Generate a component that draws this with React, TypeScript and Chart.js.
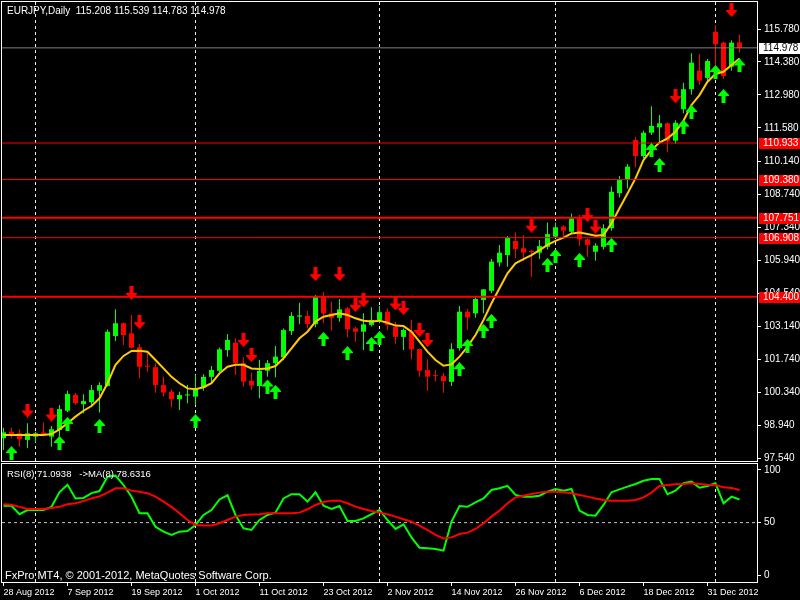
import React, { useEffect, useRef } from 'react';
import { Chart, registerables } from 'chart.js';

Chart.register(...registerables);

// ---- Daily EURJPY candles (bar index 0 = 28 Aug 2012) ----
const OPEN = [98.38,98.66,98.59,98.31,98.45,98.62,98.45,98.73,99.55,100.22, 99.83,99.91,100.40,100.60,102.73,103.27,102.84,102.25,101.45,101.40, 100.64,100.36,100.04,100.20,100.15,100.53,100.99,101.25,102.13,102.44, 101.57,100.82,100.60,101.25,101.57,101.82,102.94,103.55,103.58,103.23, 104.40,103.69,103.50,103.90,103.05,102.91,103.20,103.41,103.76,103.12, 102.69,102.91,102.17,101.28,101.06,101.02,100.78,102.21,103.76,103.69, 104.26,104.65,105.85,106.17,106.77,106.46,106.34,106.27,106.52,106.95, 107.38,107.16,107.73,106.84,106.31,106.52,107.31,108.80,109.36,111.06, 110.38,111.37,111.60,111.77,111.03,112.37,113.22,114.01,113.70,115.66, 115.20,114.18,115.208];
const HIGH = [98.83,98.83,98.76,99.02,98.66,99.06,98.90,99.79,100.40,100.30, 100.25,100.64,100.76,103.00,103.86,103.30,103.62,102.39,101.99,101.57, 101.00,100.46,100.36,100.64,101.07,101.10,101.45,102.24,102.81,102.63, 101.82,101.17,101.71,101.71,102.30,103.05,103.74,104.14,103.79,104.47, 104.61,104.18,104.30,103.97,103.12,103.69,103.95,104.00,103.90,103.33, 103.05,103.41,102.20,101.74,101.28,101.17,102.42,104.00,103.88,104.40, 104.72,106.00,106.60,106.98,107.14,107.02,106.38,106.81,107.55,107.55, 107.45,107.94,107.87,106.88,106.67,107.48,109.08,109.53,110.04,111.20, 111.46,112.50,112.12,111.80,111.90,113.50,114.75,114.72,114.50,115.95, 115.25,115.30,115.539];
const LOW = [97.88,98.38,98.02,97.95,98.19,98.47,98.02,98.48,99.50,99.80, 99.44,99.74,99.47,100.58,102.51,102.34,102.20,100.93,101.21,100.32, 100.15,99.70,99.58,99.87,99.79,100.40,100.72,101.20,101.85,101.07, 100.57,100.43,100.08,101.00,100.97,101.70,102.77,103.23,103.05,103.10, 103.27,102.96,103.33,102.67,102.48,102.13,103.13,103.27,102.98,102.40, 102.13,101.74,100.99,100.40,100.79,100.32,100.60,102.10,102.98,103.50, 103.69,104.55,105.67,105.67,106.03,105.92,105.25,106.00,106.40,106.90, 106.95,107.10,106.55,106.10,105.93,106.40,107.20,108.62,109.00,109.90, 110.28,111.27,110.92,110.56,110.90,112.20,113.00,113.40,113.55,114.04, 113.65,114.00,114.783];
const CLOSE = [98.63,98.52,98.34,98.59,98.59,98.56,98.76,99.62,100.26,99.87, 99.96,100.43,100.64,102.91,103.27,102.77,102.23,101.42,101.42,100.64, 100.32,100.04,100.22,100.24,100.50,100.99,101.28,102.16,102.56,101.57, 100.79,100.62,101.25,101.57,101.85,102.98,103.58,103.60,103.24,104.40, 103.69,103.50,103.86,103.01,102.91,103.22,103.41,103.74,103.20,102.69, 102.98,102.16,101.25,101.00,101.02,100.81,102.17,103.76,103.52,104.30, 104.71,105.89,106.27,106.91,106.43,106.27,106.30,106.55,107.06,107.35, 107.21,107.73,106.84,106.60,106.57,107.31,108.86,109.39,109.93,110.38, 111.37,111.66,111.77,111.02,111.79,113.22,114.35,113.58,114.42,115.13, 113.78,115.20,114.978];

// Moving average on price (yellow)
const PRICE_MA = [98.52,98.52,98.52,98.52,98.52,98.52,98.56,98.76,99.02,99.30, 99.55,99.75,100.08,100.72,101.50,101.88,102.09,102.10,102.06,101.71, 101.35,100.99,100.72,100.50,100.46,100.55,100.72,101.14,101.42,101.50, 101.50,101.35,101.32,101.35,101.45,101.78,102.20,102.63,102.91,103.34, 103.55,103.62,103.69,103.62,103.48,103.38,103.34,103.38,103.29,103.17, 103.15,102.91,102.49,102.06,101.71,101.46,101.52,101.85,102.27,102.77, 103.41,104.12,104.76,105.39,105.82,106.00,106.17,106.38,106.60,106.77, 106.91,107.09,107.13,107.06,106.99,107.02,107.52,108.16,108.79,109.43, 110.21,110.64,110.95,111.13,111.41,111.88,112.55,112.97,113.54,113.87, 113.96,114.25,114.53];

// Signal arrows
const UP_IDX = [1,7,8,12,24,33,34,40,43,46,47,57,58,60,61,68,69,72,76,81,82,85,86,89,90,92];
const UP_PRICE = [97.75,98.18,98.99,98.90,99.11,100.58,100.35,102.60,102.00,102.39,102.64,101.32,102.30,102.94,103.37,105.75,106.13,105.96,106.60,110.64,110.00,111.63,112.25,113.95,112.93,114.23];
const DOWN_IDX = [3,6,16,17,30,31,39,42,44,45,49,50,52,53,66,73,74,84,91];
const DOWN_PRICE = [99.56,99.39,104.56,103.32,102.56,101.92,105.36,105.36,104.05,104.24,104.11,103.92,102.98,102.56,107.42,107.87,107.38,112.93,116.59];

// Horizontal levels
const LEVELS = [110.933, 109.380, 107.751, 106.908, 104.400];
const LEVEL_WIDTHS = [1, 1, 2, 1, 2];
const BID = 114.978;

// Price axis ticks
const PRICE_TICKS = [115.78, 114.38, 112.98, 111.58, 110.14, 108.74, 107.34, 105.94, 104.54, 103.14, 101.74, 100.34, 98.94, 97.54];

// RSI(8) and its MA(8)
const RSI = [66,66,58,62,62,62,65,79,86,73, 73.5,78,80,93.6,94.6,85.7,74.6,59,59,46, 41.4,38.3,41.4,42,47.8,57.3,62,72,76,57.3, 44.6,43,52.5,57.3,59.5,73,77,77,70,78.8, 66,63,65.8,51.6,51.6,54,58,62,52.5,44, 48.4,36,26.2,25.6,25,23.4,51,65.8,65,69.3, 73,81,82.6,85,76.3,74.7,74.7,75.6,79.4,82, 80.4,82,61.4,57.3,56.6,66.8,78.8,81.6,84.2,86.7, 89.8,91.5,91.5,77,80.4,87.4,88.9,83.2,84.8,87.4, 68.4,74.7,72];
const RSI_MA = [67.4,67,65,63,63,63,64,65,67.4,68.5, 70.6,73,75,78.5,82.6,82.6,80.4,79.4,78,74.7, 70,65,59,52.5,47.8,47.2,47.2,49.4,52.5,55.7, 57.3,57.8,58,59,59,59,59,59.5,62.7,66.8, 69.6,70.9,70.9,68.4,65.2,63,61,59.5,58,55.7, 53.2,51,47.2,43,38.3,35,36,39.2,40.5,44, 49.4,55.7,61.4,68.4,74,75.6,77.2,78.5,79.4,79.4, 78.8,77.9,76.3,74.7,73,71.5,70.9,70.9,70.9,71.5, 74,78.5,84.8,85.7,86.4,86.7,87.4,86.7,86,85.7, 83.5,83,81];
const RSI_TICKS = [0, 50, 100];

// Time axis
const DATE_IDX = [0, 8, 16, 24, 32, 40, 48, 56, 64, 72, 80, 88];
const DATE_LABELS = ['28 Aug 2012', '7 Sep 2012', '19 Sep 2012', '1 Oct 2012', '11 Oct 2012', '23 Oct 2012', '2 Nov 2012', '14 Nov 2012', '26 Nov 2012', '6 Dec 2012', '18 Dec 2012', '31 Dec 2012'];
const MONTH_IDX = [4, 24, 47, 69, 89];

const HEADER = 'EURJPY,Daily  115.208 115.539 114.783 114.978';
const RSI_TITLE = 'RSI(8) 71.0938   ->MA(8) 78.6316';
const COPYRIGHT = 'FxPro MT4, \u00A9 2001-2012, MetaQuotes Software Corp.';

const X_MIN = -0.1875;
const X_MAX = 94.1875;
const P_MIN = 97.413;
const P_MAX = 116.928;
const R_MIN = -6.4;
const R_MAX = 105.7;

const GREEN = '#00ff00';
const RED = '#ff0000';
const FONT = '"Liberation Sans", Arial, sans-serif';

function makeArrow(up: boolean, color: string): HTMLCanvasElement {
  const c = document.createElement('canvas');
  c.width = 11;
  c.height = 14;
  const g = c.getContext('2d')!;
  g.fillStyle = color;
  g.beginPath();
  if (up) {
    g.moveTo(5.5, 0);
    g.lineTo(11, 6);
    g.lineTo(11, 7);
    g.lineTo(7.5, 7);
    g.lineTo(7.5, 14);
    g.lineTo(3.5, 14);
    g.lineTo(3.5, 7);
    g.lineTo(0, 7);
    g.lineTo(0, 6);
  } else {
    g.moveTo(5.5, 14);
    g.lineTo(11, 8);
    g.lineTo(11, 7);
    g.lineTo(7.5, 7);
    g.lineTo(7.5, 0);
    g.lineTo(3.5, 0);
    g.lineTo(3.5, 7);
    g.lineTo(0, 7);
    g.lineTo(0, 8);
  }
  g.closePath();
  g.fill();
  return c;
}

function vline(idx: number, lo: number, hi: number) {
  return {
    type: 'line',
    data: [{ x: idx, y: lo }, { x: idx, y: hi }],
    borderColor: '#f0f0f0',
    borderWidth: 1,
    borderDash: [3, 3],
    pointRadius: 0,
    clip: 0,
  };
}

function hline(v: number, color: string, width: number, dash?: number[]) {
  return {
    type: 'line',
    data: [{ x: X_MIN, y: v }, { x: X_MAX, y: v }],
    borderColor: color,
    borderWidth: width,
    borderDash: dash || [],
    pointRadius: 0,
  };
}

const zeroPad = (s: any) => {
  s.paddingLeft = 0;
  s.paddingRight = 0;
  s.paddingTop = 0;
  s.paddingBottom = 0;
};

export default function App() {
  const mainRef = useRef<HTMLCanvasElement>(null);
  const rsiRef = useRef<HTMLCanvasElement>(null);

  useEffect(() => {
    const upImg = makeArrow(true, GREEN);
    const downImg = makeArrow(false, RED);
    const candleColors = CLOSE.map((c, i) => (c >= OPEN[i] ? GREEN : RED));

    const mainDecor = {
      id: 'mainDecor',
      afterDraw(chart: any) {
        const { ctx, chartArea: a, scales } = chart;
        const ys = scales.y;
        ctx.save();
        ctx.strokeStyle = '#ffffff';
        ctx.lineWidth = 1;
        ctx.strokeRect(a.left - 0.5, a.top - 0.5, a.right - a.left + 1, a.bottom - a.top + 1);
        ctx.font = '10px ' + FONT;
        ctx.textBaseline = 'middle';
        ctx.textAlign = 'left';
        LEVELS.forEach((v) => {
          const y = Math.round(ys.getPixelForValue(v));
          ctx.fillStyle = RED;
          ctx.fillRect(759, y - 5, 41, 11);
          ctx.fillStyle = '#ffffff';
          ctx.fillText(v.toFixed(3), 763, y + 0.5);
        });
        const by = Math.round(ys.getPixelForValue(BID));
        ctx.fillStyle = '#ffffff';
        ctx.fillRect(759, by - 5, 41, 11);
        ctx.fillStyle = '#000000';
        ctx.fillText(BID.toFixed(3), 763, by + 0.5);
        ctx.fillStyle = '#ffffff';
        ctx.textBaseline = 'alphabetic';
        ctx.fillText(HEADER, 7, 14);
        ctx.restore();
      },
    };

    const rsiDecor = {
      id: 'rsiDecor',
      afterDraw(chart: any) {
        const { ctx, chartArea: a } = chart;
        ctx.save();
        ctx.strokeStyle = '#ffffff';
        ctx.lineWidth = 1;
        ctx.strokeRect(a.left - 0.5, a.top - 0.5, a.right - a.left + 1, a.bottom - a.top + 1);
        ctx.fillStyle = '#ffffff';
        ctx.textAlign = 'left';
        ctx.textBaseline = 'alphabetic';
        ctx.font = '9.5px ' + FONT;
        ctx.fillText(RSI_TITLE, 7, 15);
        ctx.font = '11px ' + FONT;
        ctx.fillText(COPYRIGHT, 5, 117);
        ctx.restore();
      },
    };

    const main = new Chart(mainRef.current!, {
      type: 'bar',
      data: {
        datasets: [
          {
            type: 'line',
            data: UP_IDX.map((x, k) => ({ x, y: UP_PRICE[k] })),
            showLine: false,
            pointStyle: upImg,
            pointRadius: 5,
          },
          {
            type: 'line',
            data: DOWN_IDX.map((x, k) => ({ x, y: DOWN_PRICE[k] })),
            showLine: false,
            pointStyle: downImg,
            pointRadius: 5,
          },
          ...LEVELS.map((v, k) => hline(v, RED, LEVEL_WIDTHS[k])),
          hline(BID, '#808080', 1),
          {
            type: 'line',
            data: PRICE_MA.map((y, x) => ({ x, y })),
            borderColor: '#ffcc00',
            borderWidth: 2,
            pointRadius: 0,
            tension: 0,
          },
          {
            type: 'bar',
            data: OPEN.map((o, x) => ({ x, y: [o, CLOSE[x]] })),
            backgroundColor: candleColors,
            barThickness: 5,
            minBarLength: 1,
            grouped: false,
            borderWidth: 0,
            inflateAmount: 0,
          },
          {
            type: 'bar',
            data: LOW.map((l, x) => ({ x, y: [l, HIGH[x]] })),
            backgroundColor: candleColors,
            barThickness: 1,
            grouped: false,
            borderWidth: 0,
            inflateAmount: 0,
          },
          ...MONTH_IDX.map((i) => vline(i, P_MIN, P_MAX)),
        ] as any,
      },
      options: {
        animation: false,
        responsive: false,
        maintainAspectRatio: false,
        events: [],
        layout: { autoPadding: false, padding: { left: 2, top: 2, right: 0, bottom: 1 } },
        plugins: { legend: { display: false }, tooltip: { enabled: false } },
        scales: {
          x: { type: 'linear', min: X_MIN, max: X_MAX, display: false, offset: false, afterFit: zeroPad },
          y: {
            type: 'linear',
            position: 'right',
            min: P_MIN,
            max: P_MAX,
            afterFit: (s: any) => { s.width = 43; zeroPad(s); },
            afterBuildTicks: (s: any) => { s.ticks = PRICE_TICKS.map((value) => ({ value })); },
            ticks: {
              color: '#ffffff',
              font: { family: FONT, size: 10 },
              padding: 3,
              autoSkip: false,
              callback: (v: any) => Number(v).toFixed(3),
            },
            grid: { drawOnChartArea: false, drawTicks: true, tickLength: 4, color: '#ffffff' },
            border: { display: false },
          },
        },
      } as any,
      plugins: [mainDecor],
    });

    const rsi = new Chart(rsiRef.current!, {
      type: 'line',
      data: {
        datasets: [
          {
            data: RSI_MA.map((y, x) => ({ x, y })),
            borderColor: RED,
            borderWidth: 2,
            pointRadius: 0,
          },
          {
            data: RSI.map((y, x) => ({ x, y })),
            borderColor: GREEN,
            borderWidth: 2,
            pointRadius: 0,
          },
          hline(50, '#c8c8c8', 1, [3, 3]),
          ...MONTH_IDX.map((i) => vline(i, R_MIN, R_MAX)),
        ] as any,
      },
      options: {
        animation: false,
        responsive: false,
        maintainAspectRatio: false,
        events: [],
        layout: { autoPadding: false, padding: { left: 2, top: 2, right: 0, bottom: 0 } },
        plugins: { legend: { display: false }, tooltip: { enabled: false } },
        scales: {
          x: {
            type: 'linear',
            min: X_MIN,
            max: X_MAX,
            offset: false,
            afterFit: (s: any) => { s.height = 18; zeroPad(s); },
            afterBuildTicks: (s: any) => { s.ticks = DATE_IDX.map((value) => ({ value })); },
            ticks: {
              color: '#ffffff',
              font: { family: FONT, size: 9 },
              align: 'start',
              maxRotation: 0,
              autoSkip: false,
              padding: 1,
              callback: (_v: any, k: number) => DATE_LABELS[k],
            },
            grid: { drawOnChartArea: false, drawTicks: true, tickLength: 4, color: '#ffffff' },
            border: { display: false },
          },
          y: {
            type: 'linear',
            position: 'right',
            min: R_MIN,
            max: R_MAX,
            afterFit: (s: any) => { s.width = 43; zeroPad(s); },
            afterBuildTicks: (s: any) => { s.ticks = RSI_TICKS.map((value) => ({ value })); },
            ticks: {
              color: '#ffffff',
              font: { family: FONT, size: 10 },
              padding: 3,
              autoSkip: false,
              callback: (v: any) => String(v),
            },
            grid: { drawOnChartArea: false, drawTicks: true, tickLength: 4, color: '#ffffff' },
            border: { display: false },
          },
        },
      } as any,
      plugins: [rsiDecor],
    });

    return () => {
      main.destroy();
      rsi.destroy();
    };
  }, []);

  return (
    <div style={{ position: 'fixed', left: 0, top: 0, width: 800, height: 600, background: '#000000', overflow: 'hidden' }}>
      <canvas ref={mainRef} width={800} height={462} style={{ position: 'absolute', left: 0, top: 0, width: 800, height: 462 }} />
      <canvas ref={rsiRef} width={800} height={138} style={{ position: 'absolute', left: 0, top: 462, width: 800, height: 138 }} />
    </div>
  );
}
